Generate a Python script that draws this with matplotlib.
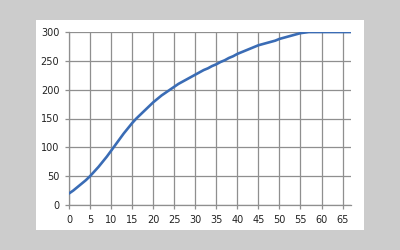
import matplotlib
matplotlib.use("Agg")
import matplotlib.pyplot as plt
from matplotlib.patches import Rectangle

# minutes 0..67 and the value
minutes = list(range(0, 68))
values = [20, 25, 31, 37, 43, 50, 58, 66, 75, 84,
          94, 104, 114, 124, 133, 142, 150, 157, 164, 171,
          178, 184, 190, 195, 200, 205, 210, 214, 218, 222,
          226, 230, 234, 237, 241, 244, 248, 251, 255, 258,
          262, 265, 268, 271, 274, 277, 279, 281, 283, 285,
          288, 290, 292, 294, 296, 298, 299, 300, 300, 300,
          300, 300, 300, 300, 300, 300, 300, 300]
xticks = list(range(0, 70, 5))
yticks = list(range(0, 350, 50))

fig = plt.figure(figsize=(4, 2.5), dpi=100)
fig.patch.set_facecolor("#cccccc")

# white chart area behind the axes
panel = Rectangle((36/400, 1-230/250), 328/400, 210/250,
                  transform=fig.transFigure, facecolor="white",
                  edgecolor="none", zorder=-10)
fig.add_artist(panel)

ax = fig.add_axes([69/400, 1-205/250, 282/400, 173/250])
ax.set_zorder(5)
ax.patch.set_alpha(0)
ax.plot(minutes, values, color="#3a6cb5", lw=1.9, solid_capstyle="round", zorder=3)

ax.set_xlim(0, 67)
ax.set_ylim(0, 300)
ax.set_xticks(xticks)
ax.set_yticks(yticks)
ax.grid(True, color="#8f8f8f", lw=0.9)
for s in ["top", "right"]:
    ax.spines[s].set_visible(False)
for s in ["left", "bottom"]:
    ax.spines[s].set_color("#8f8f8f")
    ax.spines[s].set_linewidth(0.9)
ax.tick_params(colors="#8f8f8f", labelcolor="#222222", length=3, width=0.9,
               labelsize=7, pad=4)

fig.savefig("out.png", dpi=100, facecolor=fig.get_facecolor())
